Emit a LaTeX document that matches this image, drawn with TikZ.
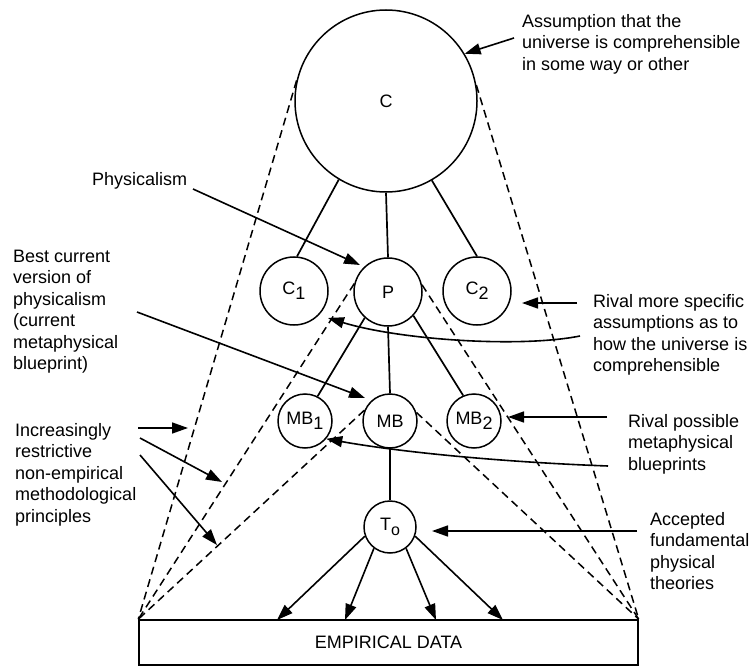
\documentclass[tikz,border=0pt]{standalone}
\usepackage{fontspec}
\setmainfont{Liberation Sans}
\usetikzlibrary{arrows.meta}
\newcommand{\lsub}[1]{\raisebox{-5pt}{#1}}
\begin{document}
\begin{tikzpicture}[x=1pt,y=-1pt,
  every node/.style={font=\fontsize{18}{21.5}\selectfont},
  circ/.style={draw, circle, line width=1.5pt, inner sep=0pt},
  conn/.style={line width=1.7pt},
  arr/.style={line width=1.6pt, -{Triangle[length=16pt,width=11pt]}},
  dsh/.style={line width=1.5pt, dash pattern=on 8pt off 5pt},
  note/.style={anchor=north west, align=left, inner sep=0pt}]
\useasboundingbox (0,0) rectangle (754,668);

% main nodes
\node[circ, minimum size=182pt] (C) at (386,101) {C};
\node[circ, minimum size=68pt] (C1) at (294,291) {C\lsub{1}};
\node[circ, minimum size=68pt] (P) at (388,292) {P};
\node[circ, minimum size=68pt] (C2) at (477,291) {C\lsub{2}};
\node[circ, minimum size=54pt] (MB1) at (305,421) {MB\lsub{1}};
\node[circ, minimum size=54pt] (MB) at (390,421) {MB};
\node[circ, minimum size=54pt] (MB2) at (474,421) {MB\lsub{2}};
\node[circ, minimum size=52pt] (T0) at (390,527) {T\lsub{\fontsize{16}{16}\selectfont o}};
\node[draw, line width=1.5pt, minimum width=499pt, minimum height=45pt, inner sep=0pt] (data) at (388.5,642.5) {EMPIRICAL DATA};

% tree connectors
\draw[conn] (C.239) -- (C1.85);
\draw[conn] (C.south) -- (P.north);
\draw[conn] (C.300) -- (C2.90);
\draw[conn] (P.228) -- (MB1.63);
\draw[conn] (P.south) -- (MB.north);
\draw[conn] (P.317) -- (MB2.113);
\draw[conn] (MB.south) -- (T0.north);

% arrows to data
\coordinate (d1) at (277,620);
\coordinate (d2) at (345,620);
\coordinate (d3) at (436,620);
\coordinate (d4) at (503,620);
\draw[arr] (T0.200) -- (d1);
\draw[arr] (T0.233) -- (d2);
\draw[arr] (T0.307) -- (d3);
\draw[arr] (T0.340) -- (d4);

% dashed cone lines
\draw[dsh] (C.167) -- (data.north west);
\draw[dsh] (P.166) -- (data.north west);
\draw[dsh] (MB.157) -- (data.north west);
\draw[dsh] (C.10) -- (data.north east);
\draw[dsh] (P.12) -- (data.north east);
\draw[dsh] (MB.18) -- (data.north east);

% annotation texts
\node[note] (tA) at (522,12) {\rule{0pt}{15pt}Assumption that the\\universe is comprehensible\\in some way or other};
\node[note] (tPh) at (92,170) {\rule{0pt}{15pt}Physicalism};
\node[note] (tB) at (13,247) {\rule{0pt}{15pt}Best current\\version of\\physicalism\\(current\\metaphysical\\blueprint)};
\node[note] (tI) at (15,421) {\rule{0pt}{15pt}Increasingly\\restrictive\\non-empirical\\methodological\\principles};
\node[note] (tR) at (593,292) {\rule{0pt}{15pt}Rival more specific\\assumptions as to\\how the universe is\\comprehensible};
\node[note] (tRP) at (628,412) {\rule{0pt}{15pt}Rival possible\\metaphysical\\blueprints};
\node[note] (tAc) at (650,510) {\rule{0pt}{15pt}Accepted\\fundamental\\physical\\theories};

% annotation arrows
\coordinate (sA) at (514,38);
\draw[arr] (sA) -- (C.31);

\coordinate (sPh) at (193,189);
\coordinate (ePh) at (360,265);
\draw[arr] (sPh) -- (ePh);

\coordinate (sB) at (137,312);
\coordinate (eB) at (365,398);
\draw[arr] (sB) -- (eB);

\coordinate (sI1) at (138,428);
\coordinate (eI1) at (188,428);
\coordinate (sI2) at (140,438);
\coordinate (eI2) at (222,482);
\coordinate (sI3) at (140,455);
\coordinate (eI3) at (217,545);
\draw[arr] (sI1) -- (eI1);
\draw[arr] (sI2) -- (eI2);
\draw[arr] (sI3) -- (eI3);

\coordinate (sR1) at (577,303);
\coordinate (eR1) at (522,303);
\draw[arr] (sR1) -- (eR1);
\coordinate (sR2) at (580,336);
\coordinate (eR2) at (328,318);
\draw[arr] (sR2) .. controls (520,348) and (400,340) .. (eR2);

\coordinate (sRP1) at (607,417);
\coordinate (eRP1) at (508,417);
\draw[arr] (sRP1) -- (eRP1);
\coordinate (sRP2) at (608,466);
\draw[arr] (sRP2) .. controls (500,462) and (400,452) .. (MB1.320);

\coordinate (sAc) at (637,531);
\coordinate (eAc) at (432,531);
\draw[arr] (sAc) -- (eAc);
\end{tikzpicture}
\end{document}
